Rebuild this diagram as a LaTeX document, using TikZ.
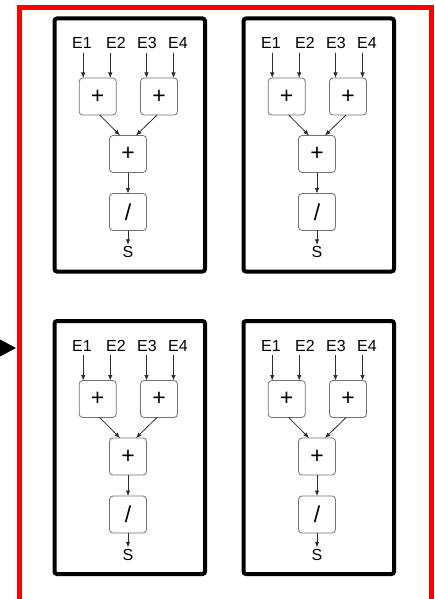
\documentclass[tikz,border=0pt]{standalone}
\usepackage{fontspec}
\setmainfont{Liberation Sans}
\usetikzlibrary{arrows.meta,calc}
\definecolor{boxgray}{RGB}{115,115,115}
\definecolor{arrgray}{RGB}{45,45,45}
\tikzset{
  bigbox/.style={draw=black, line width=4pt, rounded corners=2.5pt, minimum width=150.5pt, minimum height=253pt, inner sep=0pt, outer sep=0pt, anchor=north west},
  opbox/.style={draw=boxgray, line width=0.8pt, rounded corners=3.5pt, minimum width=37pt, minimum height=37pt, inner sep=0pt, outer sep=0pt, font=\fontsize{23}{23}\selectfont},
  lab/.style={inner sep=0pt, outer sep=0pt, font=\fontsize{16}{16}\selectfont},
  arr/.style={draw=arrgray, line width=0.8pt, -{Latex[length=5.5pt,width=4.5pt]}},
  frame/.style={draw=red, line width=5pt},
}
\newcommand\calcunit[3]{%
  \begin{scope}[shift={(#2,#3)}]
    \node[bigbox] (box#1) at (1.5,1.5) {};
    \node[lab] (ea#1) at (29,26) {E1};
    \node[lab] (eb#1) at (63,26) {E2};
    \node[lab] (ec#1) at (94,26) {E3};
    \node[lab] (ed#1) at (125,26) {E4};
    \node[opbox] (pa#1) at (44.7,79.5) {+};
    \node[opbox] (pb#1) at (106,79.5) {+};
    \node[opbox] (pm#1) at (75,137) {+};
    \node[opbox] (dv#1) at (75,195) {/};
    \node[lab] (s#1) at (75,235) {S};
    \coordinate (qa#1) at ([xshift=4pt]pa#1.north west);
    \coordinate (qb#1) at ([xshift=-6pt]pa#1.north east);
    \coordinate (qc#1) at ([xshift=6pt]pb#1.north west);
    \coordinate (qd#1) at ([xshift=-4pt]pb#1.north east);
    \coordinate (ra#1) at ([yshift=-4pt]ea#1.south);
    \draw[arr] (qa#1 |- ra#1) -- (qa#1);
    \draw[arr] (qb#1 |- ra#1) -- (qb#1);
    \draw[arr] (qc#1 |- ra#1) -- (qc#1);
    \draw[arr] (qd#1 |- ra#1) -- (qd#1);
    \draw[arr] ([xshift=2pt]pa#1.south) -- ([xshift=-8pt]pm#1.north);
    \draw[arr] ([xshift=-2pt]pb#1.south) -- ([xshift=8pt]pm#1.north);
    \draw[arr] (pm#1.south) -- (dv#1.north);
    \draw[arr, shorten >=1.5pt] (dv#1.south) -- (s#1.north);
  \end{scope}}
\begin{document}
\begin{tikzpicture}[x=1pt, y=-1pt]
  \useasboundingbox (0,0) rectangle (435,599);
  \clip (0,0) rectangle (435,599);
  \fill[white] (0,0) rectangle (435,599);
  \draw[frame] (19.5,7.5) rectangle (431.5,640);
  \coordinate (tip) at (16,348);
  \coordinate (tail) at (-40,348);
  \draw[line width=2pt, -{Triangle[length=20pt,width=21pt]}] (tail) -- (tip);
  \calcunit{A}{53}{17}
  \calcunit{B}{242}{17}
  \calcunit{C}{53}{319.5}
  \calcunit{D}{242}{319.5}
\end{tikzpicture}
\end{document}
